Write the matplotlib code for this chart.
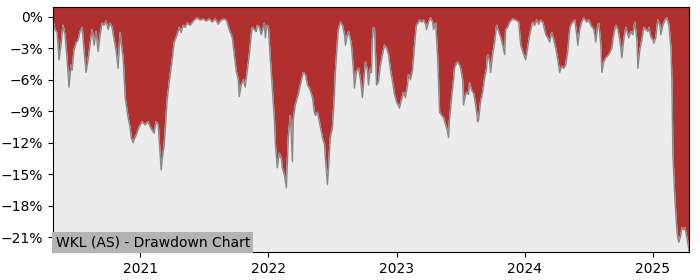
import numpy as np
import matplotlib
matplotlib.use("Agg")
import matplotlib.pyplot as plt
from matplotlib.ticker import PercentFormatter

# decimal years and drawdown in percent
years = [
    2020.320, 2020.336, 2020.352, 2020.367, 2020.383, 2020.398, 2020.414, 2020.430, 2020.445, 2020.461,
    2020.469, 2020.484, 2020.500, 2020.516, 2020.531, 2020.547, 2020.562, 2020.578, 2020.594, 2020.609,
    2020.625, 2020.641, 2020.656, 2020.672, 2020.688, 2020.703, 2020.719, 2020.734, 2020.750, 2020.766,
    2020.781, 2020.797, 2020.812, 2020.828, 2020.844, 2020.859, 2020.867, 2020.883, 2020.906, 2020.922,
    2020.930, 2020.945, 2020.953, 2020.969, 2020.992, 2021.016, 2021.039, 2021.062, 2021.078, 2021.094,
    2021.109, 2021.125, 2021.141, 2021.148, 2021.164, 2021.172, 2021.188, 2021.211, 2021.227, 2021.250,
    2021.266, 2021.289, 2021.305, 2021.320, 2021.336, 2021.352, 2021.367, 2021.391, 2021.422, 2021.445,
    2021.469, 2021.492, 2021.516, 2021.539, 2021.562, 2021.586, 2021.609, 2021.633, 2021.656, 2021.672,
    2021.695, 2021.719, 2021.734, 2021.750, 2021.766, 2021.773, 2021.789, 2021.805, 2021.820, 2021.836,
    2021.852, 2021.867, 2021.875, 2021.891, 2021.906, 2021.914, 2021.930, 2021.945, 2021.961, 2021.969,
    2021.977, 2021.984, 2021.992, 2022.000, 2022.016, 2022.031, 2022.047, 2022.055, 2022.070, 2022.086,
    2022.102, 2022.109, 2022.125, 2022.141, 2022.156, 2022.172, 2022.188, 2022.195, 2022.211, 2022.234,
    2022.250, 2022.273, 2022.289, 2022.305, 2022.320, 2022.344, 2022.359, 2022.367, 2022.383, 2022.398,
    2022.422, 2022.438, 2022.445, 2022.461, 2022.469, 2022.484, 2022.500, 2022.516, 2022.523, 2022.539,
    2022.547, 2022.562, 2022.578, 2022.594, 2022.602, 2022.617, 2022.625, 2022.641, 2022.648, 2022.664,
    2022.672, 2022.688, 2022.703, 2022.719, 2022.734, 2022.750, 2022.758, 2022.773, 2022.781, 2022.797,
    2022.805, 2022.812, 2022.820, 2022.828, 2022.836, 2022.844, 2022.859, 2022.875, 2022.891, 2022.906,
    2022.922, 2022.938, 2022.953, 2022.969, 2022.984, 2023.000, 2023.023, 2023.039, 2023.055, 2023.070,
    2023.086, 2023.094, 2023.109, 2023.125, 2023.133, 2023.148, 2023.156, 2023.172, 2023.180, 2023.195,
    2023.211, 2023.227, 2023.234, 2023.250, 2023.266, 2023.281, 2023.289, 2023.305, 2023.320, 2023.336,
    2023.352, 2023.367, 2023.383, 2023.391, 2023.406, 2023.414, 2023.430, 2023.445, 2023.453, 2023.469,
    2023.477, 2023.492, 2023.500, 2023.516, 2023.523, 2023.539, 2023.547, 2023.562, 2023.570, 2023.586,
    2023.602, 2023.617, 2023.625, 2023.633, 2023.641, 2023.656, 2023.672, 2023.688, 2023.703, 2023.711,
    2023.727, 2023.734, 2023.750, 2023.766, 2023.781, 2023.797, 2023.812, 2023.828, 2023.844, 2023.852,
    2023.867, 2023.883, 2023.906, 2023.930, 2023.953, 2023.969, 2023.992, 2024.008, 2024.023, 2024.039,
    2024.062, 2024.078, 2024.094, 2024.109, 2024.125, 2024.141, 2024.164, 2024.180, 2024.195, 2024.211,
    2024.227, 2024.242, 2024.258, 2024.273, 2024.289, 2024.305, 2024.320, 2024.336, 2024.352, 2024.359,
    2024.375, 2024.391, 2024.406, 2024.414, 2024.430, 2024.445, 2024.461, 2024.484, 2024.500, 2024.516,
    2024.539, 2024.555, 2024.570, 2024.578, 2024.594, 2024.602, 2024.617, 2024.633, 2024.656, 2024.680,
    2024.695, 2024.711, 2024.727, 2024.742, 2024.758, 2024.773, 2024.789, 2024.805, 2024.812, 2024.828,
    2024.844, 2024.859, 2024.875, 2024.883, 2024.898, 2024.914, 2024.930, 2024.945, 2024.961, 2024.969,
    2024.984, 2025.000, 2025.008, 2025.023, 2025.039, 2025.055, 2025.062, 2025.078, 2025.094, 2025.109,
    2025.125, 2025.141, 2025.148, 2025.156, 2025.172, 2025.188, 2025.195, 2025.203, 2025.219, 2025.227,
    2025.242, 2025.250, 2025.266, 2025.282,
]
drawdown = [
    -0.4, -1.2, -1.5, -4.1, -2.7, -0.8, -1.7, -4.1, -6.7, -4.6,
    -5.1, -3.2, -2.5, -2.2, -1.4, -1.0, -3.2, -5.3, -4.1, -2.7,
    -1.2, -2.7, -1.4, -3.3, -1.7, -0.6, -0.8, -0.4, -1.2, -0.6,
    -1.0, -2.2, -3.2, -4.9, -1.5, -3.2, -3.9, -7.7, -9.6, -10.6,
    -11.5, -12.0, -11.7, -11.3, -10.5, -10.0, -10.3, -10.0, -10.5, -10.8,
    -11.1, -10.0, -10.3, -11.7, -14.6, -13.6, -12.2, -7.9, -6.2, -4.1,
    -2.4, -1.7, -1.0, -1.5, -0.8, -1.0, -0.6, -0.8, -0.3, -0.1,
    -0.3, -0.2, -0.4, -0.2, -0.5, -0.2, -0.7, -0.3, -0.2, -0.3,
    -1.2, -2.0, -3.6, -5.2, -6.0, -7.6, -6.5, -6.0, -6.7, -5.1,
    -3.6, -1.7, -1.0, -1.2, -1.4, -0.8, -1.0, -1.7, -1.0, -0.6,
    -2.0, -1.2, -0.8, -1.0, -4.1, -6.8, -9.8, -12.2, -14.4, -13.0,
    -13.6, -14.4, -15.1, -16.3, -11.5, -9.4, -13.8, -9.8, -8.4, -7.4,
    -6.5, -5.3, -5.5, -6.5, -6.8, -7.7, -9.1, -9.4, -9.1, -10.0,
    -11.5, -12.2, -13.5, -16.0, -14.6, -11.5, -10.6, -7.4, -5.3, -2.4,
    -1.2, -0.5, -0.8, -1.7, -2.7, -1.7, -1.4, -2.2, -2.7, -5.1,
    -6.8, -5.2, -4.9, -6.0, -7.7, -5.5, -4.3, -5.1, -6.5, -4.9,
    -5.3, -2.2, -1.0, -1.2, -3.6, -6.5, -6.2, -4.6, -3.6, -2.7,
    -3.0, -3.6, -5.1, -6.2, -7.4, -8.1, -8.7, -7.9, -7.2, -7.7,
    -6.5, -5.5, -6.0, -5.1, -3.9, -1.7, -0.8, -0.5, -0.3, -0.5,
    -0.3, -0.7, -1.2, -0.5, -0.1, -0.5, -1.2, -0.6, -3.6, -9.1,
    -9.4, -9.6, -10.3, -10.6, -11.5, -9.8, -7.7, -6.0, -4.9, -4.4,
    -4.3, -4.6, -4.9, -6.0, -8.4, -7.4, -7.2, -7.4, -6.3, -7.0,
    -7.3, -8.4, -9.1, -10.0, -9.8, -8.1, -7.2, -5.8, -4.9, -3.6,
    -4.3, -5.3, -3.6, -2.4, -0.8, -1.4, -1.9, -2.7, -3.6, -1.2,
    -1.0, -0.5, -0.2, -0.3, -0.5, -2.7, -3.6, -4.1, -3.0, -1.7,
    -0.5, -0.8, -0.3, -0.7, -0.3, -0.5, -1.7, -2.0, -2.4, -1.5,
    -2.2, -3.0, -4.1, -5.3, -4.7, -4.9, -4.6, -3.3, -1.2, -0.8,
    -0.5, -0.3, -1.7, -2.7, -1.2, -0.5, -0.1, -0.5, -0.3, -0.8,
    -1.2, -2.4, -0.8, -0.6, -2.7, -5.3, -4.3, -3.9, -3.6, -3.0,
    -1.7, -0.8, -1.2, -2.2, -3.9, -2.2, -1.0, -1.7, -2.0, -1.4,
    -1.7, -0.5, -2.2, -4.9, -3.2, -2.2, -1.0, -1.2, -1.4, -1.0,
    -1.9, -2.2, -2.5, -2.0, -0.3, -0.8, -1.7, -0.8, -0.3, -0.1,
    -0.8, -3.0, -6.0, -13.2, -17.5, -20.5, -21.1, -21.5, -20.8, -20.1,
    -20.3, -20.1, -21.1, -22.3,
]
year_ticks = [2021, 2022, 2023, 2024, 2025]
pct_ticks = [0, -3, -6, -9, -12, -15, -18, -21]
title = "WKL (AS) - Drawdown Chart"

x = np.array(years)
y = np.array(drawdown)

fig = plt.figure(figsize=(7, 2.8), dpi=100)
ax = fig.add_axes([0.0757, 0.1, 0.9086, 0.875])

# red behind everything, light grey below the drawdown line
ax.set_facecolor("#b03030")
ax.fill_between(x, y, -30, color="#ececec", zorder=1)
ax.plot(x, y, color="#888888", lw=1, zorder=2)

ax.set_xlim(x[0], x[-1])
ax.set_ylim(-22.43, 0.95)
ax.set_xticks(year_ticks)
ax.set_xticklabels([str(t) for t in year_ticks])
ax.set_yticks(pct_ticks)
ax.yaxis.set_major_formatter(PercentFormatter(decimals=0))
ax.tick_params(labelsize=10)

ax.text(0.004, 0.012, title, transform=ax.transAxes, fontsize=10,
        ha="left", va="bottom", zorder=5,
        bbox=dict(facecolor="#b3b3b3", edgecolor="none", pad=2.5))

fig.savefig("out.png", dpi=100)
